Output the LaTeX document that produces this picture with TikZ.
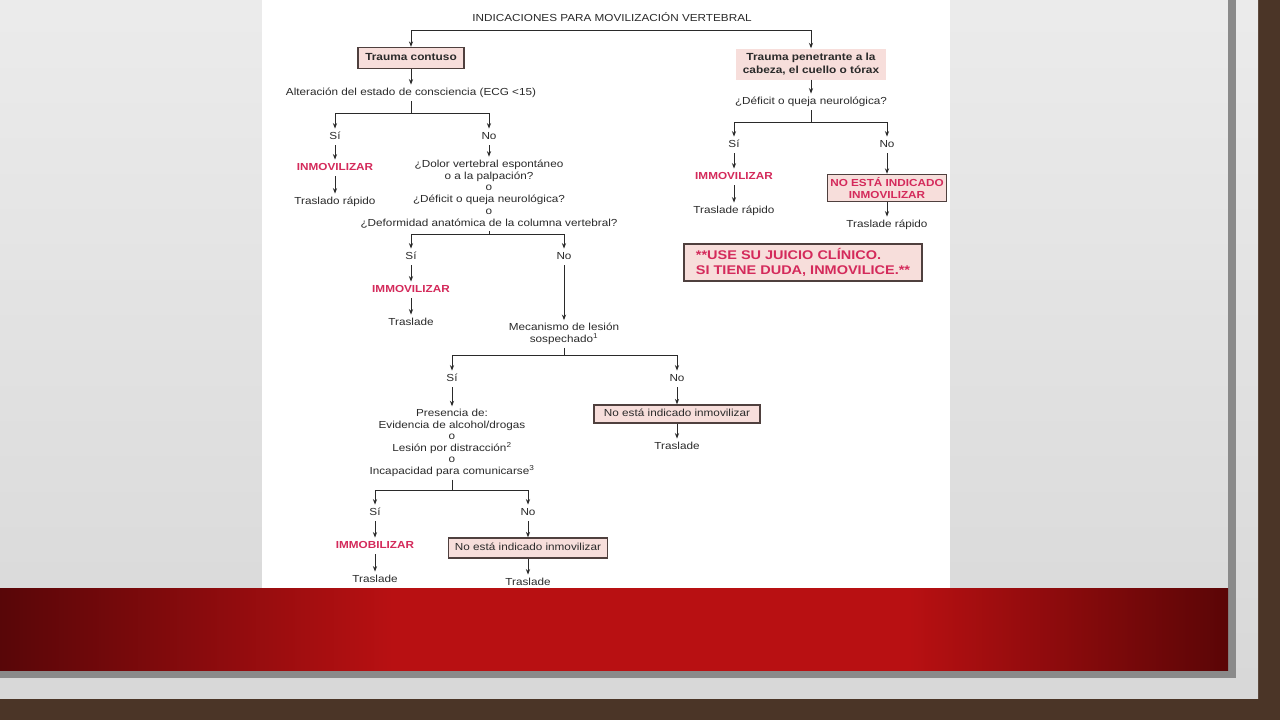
\documentclass[tikz,border=0pt]{standalone}
\usepackage{fontspec}
\setmainfont{Liberation Sans}[FakeStretch=1.15]
\usetikzlibrary{arrows.meta}
\definecolor{txt}{HTML}{2A2A2A}
\definecolor{rojo}{HTML}{D42A5B}
\definecolor{rosa}{HTML}{F7DEDB}
\definecolor{borde}{HTML}{4F403E}
\definecolor{brick}{HTML}{4B3527}
\definecolor{slide}{HTML}{E3E3E3}
\definecolor{shadowgray}{HTML}{8A8A8A}
\definecolor{darkred}{HTML}{580608}
\definecolor{darkredr}{HTML}{5A0506}
\definecolor{brightred}{HTML}{B81012}
\pgfdeclarehorizontalshading{band}{100bp}{color(0bp)=(darkred); color(25bp)=(darkred); color(41bp)=(brightred); color(62bp)=(brightred); color(75bp)=(darkredr); color(100bp)=(darkredr)}
\begin{document}
\begin{tikzpicture}[x=1pt,y=-1pt,
  t/.style={font=\fontsize{10.2}{11.8}\selectfont, text=txt, align=center,
            inner xsep=1pt, inner ysep=3pt, text height=8pt, text depth=2.5pt},
  ml/.style={t, text height={}, text depth={}},
  rt/.style={t, font=\fontsize{10.2}{11.8}\selectfont\bfseries, text=rojo},
  bx/.style={t, draw=borde, line width=1.3pt, fill=rosa, inner sep=2pt},
  ln/.style={draw=txt, line width=1pt},
  arr/.style={ln, -{Stealth[length=5.5pt,width=4.2pt]}}]
\useasboundingbox (0,0) rectangle (1280,720);
% background
\fill[brick] (0,0) rectangle (1280,720);
\shade[top color=slide!70!white, bottom color=slide!95!black] (0,0) rectangle (1258,698);
\fill[shadowgray] (1228,0) rectangle (1236,678);
\fill[shadowgray] (0,670) rectangle (1236,678);
\fill[white] (262,0) rectangle (950,588);
\shade[shading=band] (0,588) rectangle (1228,670);

% title
\node[t] (title) at (612,19) {INDICACIONES PARA MOVILIZACIÓN VERTEBRAL};
\coordinate (tl) at (411,30);
\node[bx, font=\fontsize{10.3}{11.8}\selectfont\bfseries, minimum width=106pt, minimum height=21pt] (tc) at (411,58) {Trauma contuso};
\node[ml, fill=rosa, font=\fontsize{10.3}{12.5}\selectfont\bfseries, minimum width=150pt, minimum height=31pt] (tp) at (811,64) {Trauma penetrante a la\\cabeza, el cuello o tórax};
\draw[arr] (tl) -- (tc);
\draw[arr] (tl) -| (tp);

% left main branch
\node[t] (alt) at (411,93) {Alteración del estado de consciencia (ECG <15)};
\draw[arr] (tc) -- (alt);
\coordinate (j1) at (0,113);
\node[t] (si1) at (335,137) {Sí};
\node[t] (no1) at (489,137) {No};
\draw[ln] (alt) -- (alt |- j1);
\draw[arr] (alt |- j1) -| (si1);
\draw[arr] (alt |- j1) -| (no1);
\node[rt] (inm1) at (335,168) {INMOVILIZAR};
\node[t] (tr1) at (335,202) {Traslado rápido};
\draw[arr] (si1) -- (inm1);
\draw[arr] (inm1) -- (tr1);
\node[ml] (q1) at (489,194) {¿Dolor vertebral espontáneo\\o a la palpación?\\o\\¿Déficit o queja neurológica?\\o\\¿Deformidad anatómica de la columna vertebral?};
\draw[arr] (no1) -- (q1);

\coordinate (j2) at (0,234);
\node[t] (si2) at (411,257) {Sí};
\node[t] (no2) at (564,257) {No};
\draw[ln] (q1) -- (q1 |- j2);
\draw[arr] (q1 |- j2) -| (si2);
\draw[arr] (q1 |- j2) -| (no2);
\node[rt] (imm2) at (411,290) {IMMOVILIZAR};
\node[t] (tras2) at (411,323) {Traslade};
\draw[arr] (si2) -- (imm2);
\draw[arr] (imm2) -- (tras2);
\node[ml] (mec) at (564,334) {Mecanismo de lesión\\sospechado\textsuperscript{1}};
\draw[arr] (no2) -- (mec);

\coordinate (j3) at (0,355);
\node[t] (si3) at (452,379) {Sí};
\node[t] (no3) at (677,379) {No};
\draw[ln] (mec) -- (mec |- j3);
\draw[arr] (mec |- j3) -| (si3);
\draw[arr] (mec |- j3) -| (no3);
\node[ml, font=\fontsize{10.2}{11.5}\selectfont] (pres) at (452,443) {Presencia de:\\Evidencia de alcohol/drogas\\o\\Lesión por distracción\textsuperscript{2}\\o\\Incapacidad para comunicarse\textsuperscript{3}};
\draw[arr] (si3) -- (pres);
\node[bx, minimum width=166pt, minimum height=18pt] (box3) at (677,414) {No está indicado inmovilizar};
\node[t] (trasn3) at (677,447) {Traslade};
\draw[arr] (no3) -- (box3);
\draw[arr] (box3) -- (trasn3);

\coordinate (j4) at (0,490);
\node[t] (si4) at (375,513) {Sí};
\node[t] (no4) at (528,513) {No};
\draw[ln] (pres) -- (pres |- j4);
\draw[arr] (pres |- j4) -| (si4);
\draw[arr] (pres |- j4) -| (no4);
\node[rt] (immb) at (375,546) {IMMOBILIZAR};
\node[t] (tras4) at (375,580) {Traslade};
\draw[arr] (si4) -- (immb);
\draw[arr] (immb) -- (tras4);
\node[bx, minimum width=159pt, minimum height=20pt] (box4) at (528,548) {No está indicado inmovilizar};
\node[t] (tras5) at (528,583) {Traslade};
\draw[arr] (no4) -- (box4);
\draw[arr] (box4) -- (tras5);

% right branch
\node[t] (q2) at (811,102) {¿Déficit o queja neurológica?};
\draw[arr] (tp) -- (q2);
\coordinate (j5) at (0,122);
\node[t] (si5) at (734,145) {Sí};
\node[t] (no5) at (887,145) {No};
\draw[ln] (q2) -- (q2 |- j5);
\draw[arr] (q2 |- j5) -| (si5);
\draw[arr] (q2 |- j5) -| (no5);
\node[rt] (imm5) at (734,177) {IMMOVILIZAR};
\node[t] (tr5) at (734,211) {Traslade rápido};
\draw[arr] (si5) -- (imm5);
\draw[arr] (imm5) -- (tr5);
\node[bx, ml, font=\fontsize{10.2}{12}\selectfont\bfseries, text=rojo, minimum width=119pt, minimum height=27pt] (box5) at (887,188) {NO ESTÁ INDICADO\\INMOVILIZAR};
\node[t] (tr6) at (887,225) {Traslade rápido};
\draw[arr] (no5) -- (box5);
\draw[arr] (box5) -- (tr6);

\node[bx, ml, font=\fontsize{12.6}{15}\selectfont\bfseries, text=rojo, align=left, minimum width=238pt, minimum height=37pt] (juicio) at (803,262.5) {**USE SU JUICIO CLÍNICO.\\SI TIENE DUDA, INMOVILICE.**};
\end{tikzpicture}
\end{document}
